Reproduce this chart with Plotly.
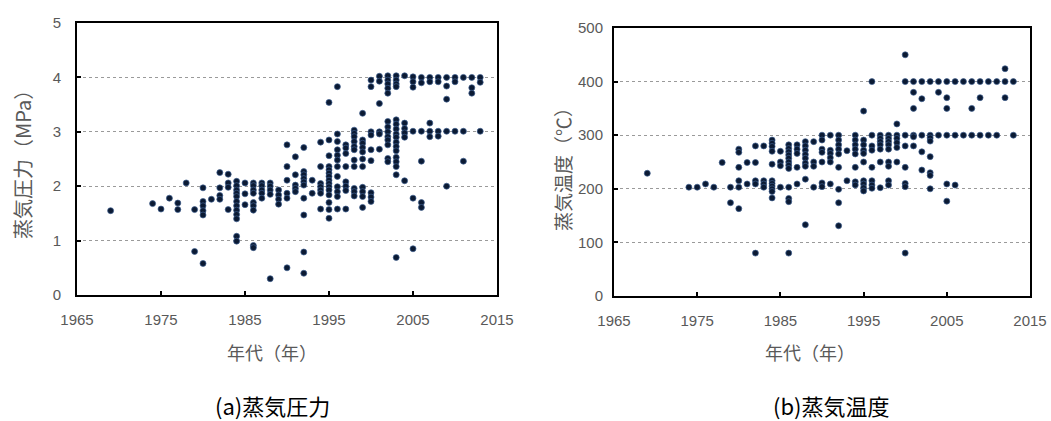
import plotly.graph_objects as go

# ---------------- data ----------------
pressure_year = (
    [1969] + [1974] + [1975] + [1976] + [1977] * 2 + [1978] + [1979] * 2 +
    [1980] * 6 + [1981] + [1982] * 4 + [1983] * 4 + [1984] * 12 + [1985] * 3 +
    [1986] * 9 + [1987] * 5 + [1988] * 5 + [1989] * 4 + [1990] * 6 + [1991] * 5 +
    [1992] * 10 + [1993] * 2 + [1994] * 7 + [1995] * 15 + [1996] * 12 + [1997] * 8 +
    [1998] * 11 + [1999] * 11 + [2000] * 9 + [2001] * 6 + [2002] * 13 + [2003] * 17 +
    [2004] * 6 + [2005] * 6 + [2006] * 6 + [2007] * 5 + [2008] * 4 + [2009] * 5 +
    [2010] * 3 + [2011] * 3 + [2012] * 3 + [2013] * 3
)
pressure_mpa = [
    1.55,
    1.68,
    1.58,
    1.78,
    1.69, 1.57,
    2.06,
    1.57, 0.80,
    1.97, 1.72, 1.64, 1.55, 1.47, 0.58,
    1.76,
    2.25, 1.97, 1.83, 1.76,
    2.22, 2.06, 1.98, 1.57,
    2.09, 2.01, 1.93, 1.87, 1.81, 1.72, 1.64, 1.56, 1.48, 1.40, 1.08, 0.99,
    2.06, 1.86, 1.66,
    2.06, 2.01, 1.93, 1.87, 1.70, 1.64, 1.56, 0.91, 0.87,
    2.06, 2.01, 1.93, 1.87, 1.78,
    2.06, 2.00, 1.93, 1.85, 0.30,
    1.93, 1.84, 1.76, 1.67,
    2.76, 2.36, 2.11, 1.87, 1.78, 0.50,
    2.54, 2.21, 2.02, 1.96, 1.90,
    2.71, 2.27, 2.21, 2.14, 2.08, 2.02, 1.78, 1.47, 0.79, 0.40,
    2.11, 1.87,
    2.81, 2.36, 2.05, 1.99, 1.93, 1.87, 1.58,
    3.54, 2.85, 2.56, 2.36, 2.30, 2.24, 2.18, 2.11, 2.05, 1.99, 1.93, 1.84, 1.70, 1.57, 1.41,
    3.83, 2.96, 2.82, 2.67, 2.57, 2.48, 2.36, 2.18, 1.99, 1.90, 1.81, 1.58,
    2.76, 2.70, 2.60, 2.36, 2.08, 2.00, 1.92, 1.58,
    3.03, 2.97, 2.91, 2.82, 2.73, 2.67, 2.48, 2.36, 1.96, 1.90, 1.82,
    3.34, 2.85, 2.79, 2.71, 2.63, 2.50, 2.36, 1.98, 1.90, 1.81, 1.61,
    3.95, 3.83, 3.00, 2.94, 2.67, 2.47, 1.88, 1.80, 1.72,
    4.02, 3.93, 3.52, 3.00, 2.96, 2.68,
    4.03, 3.95, 3.88, 3.80, 3.71, 3.19, 3.09, 3.00, 2.91, 2.85, 2.76, 2.51, 2.45,
    4.03, 3.95, 3.88, 3.83, 3.22, 3.14, 3.05, 2.96, 2.90, 2.81, 2.73, 2.65, 2.53, 2.45, 2.36, 2.21, 0.69,
    4.03, 3.16, 3.06, 2.98, 2.90, 2.10,
    4.01, 3.92, 3.82, 3.01, 1.78, 0.85,
    4.00, 3.90, 3.01, 2.46, 1.70, 1.61,
    4.00, 3.92, 3.16, 3.01, 2.91,
    4.00, 3.92, 3.01, 2.92,
    4.00, 3.84, 3.60, 3.01, 2.00,
    4.00, 3.92, 3.01,
    4.00, 3.01, 2.46,
    4.00, 3.81, 3.71,
    4.00, 3.91, 3.01,
]

temp_year = (
    [1969] + [1974] + [1975] + [1976] + [1977] + [1978] + [1979] * 2 +
    [1980] * 6 + [1981] * 2 + [1982] * 5 + [1983] * 4 + [1984] * 11 + [1985] * 4 +
    [1986] * 12 + [1987] * 5 + [1988] * 9 + [1989] * 4 + [1990] * 7 + [1991] * 6 +
    [1992] * 9 + [1993] * 2 + [1994] * 8 + [1995] * 10 + [1996] * 8 + [1997] * 7 +
    [1998] * 9 + [1999] * 6 + [2000] * 8 + [2001] * 6 + [2002] * 5 + [2003] * 8 +
    [2004] * 3 + [2005] * 6 + [2006] * 3 + [2007] * 2 + [2008] * 3 + [2009] * 3 +
    [2010] * 2 + [2011] * 2 + [2012] * 3 + [2013] * 2
)
temp_c = [
    229,
    203,
    203,
    209,
    203,
    249,
    203, 174,
    274, 268, 240, 215, 203, 163,
    249, 209,
    280, 249, 215, 209, 80,
    280, 215, 209, 203,
    291, 285, 279, 270, 246, 215, 210, 205, 200, 195, 183,
    270, 250, 243, 203,
    282, 275, 269, 263, 257, 250, 244, 238, 203, 182, 176, 80,
    282, 274, 266, 240, 209,
    288, 280, 272, 264, 257, 248, 242, 218, 133,
    288, 250, 242, 203,
    300, 291, 274, 268, 250, 211, 204,
    300, 272, 266, 258, 250, 209,
    300, 291, 282, 274, 265, 240, 199, 174, 131,
    271, 215,
    300, 291, 282, 274, 265, 240, 213, 207,
    345, 291, 282, 272, 266, 250, 215, 209, 202, 196,
    400, 300, 280, 272, 240, 215, 207, 201,
    300, 294, 288, 282, 274, 250, 202,
    300, 294, 288, 282, 274, 250, 242, 215, 207,
    321, 300, 294, 286, 277, 250,
    450, 400, 300, 280, 240, 210, 204, 80,
    400, 380, 350, 300, 297, 280,
    400, 368, 300, 269, 235,
    400, 300, 295, 289, 260, 230, 225, 200,
    400, 380, 300,
    400, 370, 350, 300, 209, 177,
    400, 300, 207,
    400, 300,
    400, 350, 300,
    400, 370, 300,
    400, 300,
    400, 300,
    424, 400, 370,
    400, 300,
]

x_ticks = [1965, 1975, 1985, 1995, 2005, 2015]
p_ticks = [0, 1, 2, 3, 4, 5]
t_ticks = [0, 100, 200, 300, 400, 500]

x_title = "年代（年）"
p_title = "蒸気圧力（MPa）"
t_title = "蒸気温度（℃）"
cap_a = "(a)蒸気圧力"
cap_b = "(b)蒸気温度"

# ---------------- figure ----------------
W, H = 1051, 421
TXT = "#595959"
FONT = "Liberation Sans, Arial, Noto Sans CJK JP, sans-serif"
CJK = "Noto Sans CJK JP, sans-serif"

marker = dict(size=6, color="#0b1a33", line=dict(color="#3d5f8f", width=0.7))

fig = go.Figure()
fig.add_trace(go.Scatter(x=pressure_year, y=pressure_mpa, mode="markers",
                         marker=marker, xaxis="x", yaxis="y", showlegend=False))
fig.add_trace(go.Scatter(x=temp_year, y=temp_c, mode="markers",
                         marker=marker, xaxis="x2", yaxis="y2", showlegend=False))

def px_x(a, b):
    return [a / W, b / W]

def px_y(top, bottom):
    return [1 - bottom / H, 1 - top / H]

xcommon = dict(range=[1965, 2015], tickvals=x_ticks, showgrid=False, zeroline=False,
               showline=True, linecolor="black", linewidth=2, mirror=True,
               ticks="inside", ticklen=4, tickwidth=1.5, tickcolor="black", automargin=False,
               tickfont=dict(family=FONT, size=15, color=TXT), ticklabelstandoff=10)
ycommon = dict(showgrid=True, gridcolor="#9a9a9a", griddash="dot", gridwidth=1,
               zeroline=False, showline=True, linecolor="black", linewidth=2, mirror=True,
               ticks="inside", ticklen=4, tickwidth=1.5, tickcolor="black", automargin=False,
               tickfont=dict(family=FONT, size=15, color=TXT))

fig.update_layout(
    width=W, height=H,
    margin=dict(l=0, r=0, t=0, b=0),
    paper_bgcolor="white", plot_bgcolor="white",
    xaxis=dict(domain=px_x(77, 497), anchor="y", **xcommon),
    yaxis=dict(domain=px_y(23, 295), anchor="x", range=[0, 5], tickvals=p_ticks,
               ticklabelstandoff=11, **ycommon),
    xaxis2=dict(domain=px_x(614, 1030), anchor="y2", **xcommon),
    yaxis2=dict(domain=px_y(28, 296), anchor="x2", range=[0, 500], tickvals=t_ticks,
                ticklabelstandoff=6, **ycommon),
)

def ann(text, x, y, size, color, angle=0):
    fig.add_annotation(text=text, x=x / W, y=1 - y / H, xref="paper", yref="paper",
                       showarrow=False, textangle=angle, xanchor="center", yanchor="middle",
                       font=dict(family=CJK, size=size, color=color))

ann(p_title, 23, 160, 20, TXT, -90)
ann(t_title, 562, 165, 19, TXT, -90)
ann(x_title, 272, 352, 18, TXT)
ann(x_title, 810, 352, 18, TXT)
ann(cap_a, 272, 405, 22, "black")
ann(cap_b, 831, 405, 22, "black")

fig.write_html("out.html")
